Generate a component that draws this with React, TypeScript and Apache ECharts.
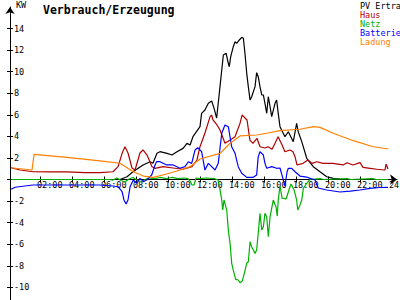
import React, { useEffect, useRef } from "react";
import * as echarts from "echarts";

// [hour, kW]
const pvData: [number, number][] = [
  [0.19, 0], [6.75, 0], [7.0, 0], [7.44, 0.26], [7.81, 0.72], [8.44, 1.35], [8.88, 1.65], [9.06, 1.5],
  [9.31, 2.43], [9.5, 2.58], [9.94, 2.43], [10.25, 2.27], [10.56, 2.58], [10.94, 2.89], [11.19, 3.36],
  [11.38, 3.2], [11.56, 3.97], [12.0, 4.9], [12.1, 6.14], [12.31, 6.45], [12.52, 7.07], [12.73, 7.28],
  [12.88, 6.6], [13.04, 5.7], [13.14, 7.07], [13.25, 8.61], [13.36, 10.16], [13.46, 11.55], [13.63, 11.71],
  [13.77, 10.78], [13.83, 10.46], [13.92, 11.39], [14.08, 12.32], [14.19, 12.78], [14.29, 12.63],
  [14.46, 12.94], [14.61, 13.19], [14.71, 13.1], [14.81, 11.71], [14.92, 9.85], [15.02, 8.61], [15.13, 7.37],
  [15.23, 7.68], [15.44, 8.61], [15.54, 9.91], [15.64, 9.54], [15.75, 8.61], [15.86, 7.84], [15.96, 7.84],
  [16.06, 7.07], [16.17, 6.14], [16.27, 7.68], [16.38, 6.75], [16.48, 5.83], [16.69, 7.07], [16.79, 7.37],
  [16.89, 6.14], [17.0, 4.9], [17.31, 3.97], [17.52, 4.43], [17.83, 3.51], [18.04, 5.21], [18.14, 4.43],
  [18.36, 3.51], [18.67, 1.97], [19.08, 1.19], [19.5, 0.72], [19.92, 0.26], [20.33, 0.11], [20.75, 0.05]
];

const hausData: [number, number][] = [
  [0.19, 1.09], [0.75, 0.88], [1.56, 0.72], [2.63, 0.7], [3.69, 0.7], [4.81, 0.63], [5.75, 0.63],
  [6.56, 0.72], [6.88, 1.19], [7.13, 2.43], [7.31, 3.04], [7.5, 2.46], [7.75, 1.07], [7.94, 0.88],
  [8.25, 2.46], [8.44, 2.74], [8.69, 2.27], [9.0, 1.19], [9.19, 1.04], [9.69, 1.19], [10.31, 1.07],
  [10.94, 0.95], [11.5, 1.19], [11.81, 1.81], [12.0, 3.04], [12.31, 4.31], [12.63, 5.83], [12.73, 5.98],
  [12.81, 5.52], [13.06, 5.06], [13.25, 4.59], [13.56, 3.36], [13.88, 3.66], [14.19, 3.97], [14.5, 5.21],
  [14.63, 5.98], [14.94, 5.52], [15.12, 3.66], [15.31, 3.36], [15.56, 3.82], [15.75, 3.04], [16.06, 2.92],
  [16.25, 3.04], [16.5, 2.8], [16.69, 3.36], [16.88, 3.97], [17.13, 3.2], [17.31, 2.58], [17.63, 2.74],
  [17.81, 2.58], [17.94, 2.12], [18.06, 1.35], [18.44, 1.5], [18.75, 1.81], [19.0, 1.5], [19.31, 1.65],
  [19.69, 1.5], [20.31, 1.5], [20.94, 1.35], [21.19, 1.56], [21.56, 1.35], [22.0, 1.56], [22.19, 1.13],
  [22.63, 1.04], [23.06, 0.95], [23.56, 0.88], [23.63, 1.44], [23.75, 0.97]
];

const netzData: [number, number][] = [
  [0.19, 0], [6.38, 0], [6.56, -0.05], [6.81, 0.14], [7.06, -0.09], [7.31, -0.23], [7.56, 0.05],
  [7.81, 0.19], [8.06, -0.05], [8.31, -0.23], [8.56, 0], [8.81, 0.14], [9.19, 0.09], [9.5, 0.19],
  [9.88, 0.09], [10.25, 0.19], [10.63, 0.09], [11.0, 0.14], [11.25, 0.09], [11.38, -0.14], [11.5, -0.51],
  [11.63, -0.51], [11.75, 0.14], [12.0, 0.09], [12.38, 0.14], [12.88, 0.09], [13.13, -0.05], [13.25, -0.97],
  [13.36, -1.9], [13.42, -2.83], [13.5, -1.9], [13.56, -2.21], [13.67, -2.83], [13.77, -4.69], [13.88, -5.92],
  [13.98, -7.77], [14.08, -8.4], [14.23, -9.26], [14.39, -9.32], [14.5, -9.57], [14.64, -9.42], [14.77, -8.7],
  [14.92, -7.77], [15.02, -7.63], [15.13, -5.77], [15.23, -6.23], [15.33, -6.54], [15.44, -6.85],
  [15.54, -6.54], [15.64, -4.99], [15.75, -3.14], [15.86, -4.68], [15.96, -4.38], [16.06, -3.14],
  [16.17, -3.45], [16.27, -5.31], [16.38, -3.45], [16.48, -2.67], [16.58, -1.9], [16.75, -2.52],
  [16.83, -3.39], [16.89, -1.9], [17.0, -0.6], [17.13, -1.72], [17.38, -1.81], [17.56, -0.97],
  [17.69, -0.42], [17.88, -0.97], [18.04, -1.9], [18.11, -2.83], [18.25, -2.37], [18.36, -1.9],
  [18.46, -0.82], [18.67, -0.35], [18.88, 0], [19.5, 0.08], [19.7, 0], [21.2, 0.08], [21.4, 0],
  [22.8, 0.08], [23.0, 0], [23.75, 0]
];

const batterieData: [number, number][] = [
  [0.19, -0.91], [0.44, -0.72], [1.06, -0.6], [1.56, -0.51], [3.69, -0.51], [5.75, -0.51], [6.56, -0.6],
  [6.88, -0.67], [7.13, -1.13], [7.25, -1.9], [7.38, -2.27], [7.5, -1.9], [7.63, -0.67], [7.83, -0.05],
  [8.04, -0.35], [8.25, 0.11], [8.46, -0.2], [8.67, -0.05], [8.98, 0.42], [9.19, 1.35], [9.29, 1.65],
  [9.5, 1.65], [9.92, 1.35], [10.33, 1.35], [10.75, 1.04], [11.06, 1.19], [11.27, 1.65], [11.48, 1.5],
  [11.69, 2.74], [11.86, 2.95], [12.0, 2.74], [12.1, 2.58], [12.31, 0.88], [12.52, 1.5], [12.73, 1.19],
  [12.94, 0.88], [13.14, 1.5], [13.36, 4.29], [13.56, 5.06], [13.77, 4.9], [13.98, 3.04], [14.19, 2.43],
  [14.39, 1.19], [14.61, 0.58], [14.92, 0.2], [15.33, 0.2], [15.54, 0.42], [15.64, 2.12], [15.75, 2.58],
  [15.96, 2.27], [16.06, 1.5], [16.17, 1.04], [16.48, 1.19], [16.79, 1.04], [17.0, 1.07], [17.21, -0.05],
  [17.31, -0.6], [17.44, 0.7], [17.52, 1.04], [17.73, 1.04], [17.94, 0.72], [18.25, 0.32], [18.67, 0.23],
  [18.88, 0.11], [19.19, -0.05], [19.39, -0.79], [19.92, -0.97], [20.75, -1.16], [21.38, -1.07],
  [22.0, -0.97], [22.63, -0.82], [23.25, -0.74], [23.75, -0.72]
];

const ladungData: [number, number][] = [
  [0.19, 1.09], [1.5, 0.88], [1.63, 2.34], [3.69, 2.06], [5.75, 1.72], [7.0, 1.51], [7.83, 0.72],
  [8.46, 0.32], [9.08, 0.2], [9.92, 0.51], [10.75, 0.88], [11.38, 1.19], [12.0, 1.9], [13.25, 2.43],
  [13.88, 3.36], [14.5, 4.04], [15.54, 4.13], [16.17, 4.29], [17.0, 4.53], [18.25, 4.66], [19.08, 4.9],
  [19.5, 4.84], [20.33, 4.29], [21.58, 3.6], [22.83, 3.04], [23.77, 2.83]
];

const seriesNames = ["PV Ertrag", "Haus", "Netz", "Batterie", "Ladung"];
const seriesColors = ["#000000", "#b00000", "#00b000", "#0000ff", "#ff8000"];
const xTickHours = [2, 4, 6, 8, 10, 12, 14, 16, 18, 20, 22, 24];
const yTickValues = [-10, -8, -6, -4, -2, 0, 2, 4, 6, 8, 10, 12, 14];
const yLabelValues = [-10, -8, -6, -4, -2, 2, 4, 6, 8, 10, 12, 14];
const title = "Verbrauch/Erzeugung";
const unit = "KW";

const FONT = "DejaVu Sans Mono";
const LABEL_SHIFT = 0.1875;

export default function App() {
  const ref = useRef<HTMLDivElement>(null);
  useEffect(() => {
    if (!ref.current) return;
    const chart = echarts.init(ref.current, null, { renderer: "svg" });
    const xMin = 0.125;
    const xMax = 24.3125;
    const yMin = -12;
    const yMax = 16;
    const gridTop = 7;
    const gridHeight = 301.9;
    // distance from grid bottom up to the zero line
    const zeroOffset = -(gridHeight * (0 - yMin)) / (yMax - yMin);
    const baseX = {
      type: "value" as const,
      min: xMin,
      max: xMax,
      position: "bottom" as const,
      offset: zeroOffset,
      splitLine: { show: false },
    };
    const baseY = {
      type: "value" as const,
      min: yMin,
      max: yMax,
      position: "left" as const,
      splitLine: { show: false },
    };
    const allData = [pvData, hausData, netzData, batterieData, ladungData];
    chart.setOption({
      animation: false,
      backgroundColor: "#ffffff",
      title: {
        text: title,
        left: 38,
        top: -1,
        textStyle: { fontFamily: FONT, fontWeight: "bold", fontSize: 11.5, color: "#000" },
      },
      legend: {
        orient: "vertical",
        left: 355,
        top: 1,
        itemWidth: 0,
        itemHeight: 0,
        itemGap: 0,
        padding: 0,
        selectedMode: false,
        textStyle: { fontFamily: FONT, fontSize: 8.5, lineHeight: 7.7 },
        data: seriesNames.map((n, i) => ({ name: n, icon: "rect", textStyle: { color: seriesColors[i] } })),
      },
      grid: {
        left: 10,
        top: gridTop,
        width: 387,
        height: gridHeight,
        containLabel: false,
        outerBoundsMode: "none",
      },
      xAxis: [
        {
          ...baseX,
          axisLine: {
            onZero: false,
            lineStyle: { color: "#000", width: 1 },
            symbol: ["none", "arrow"],
            symbolSize: [8, 7],
          },
          axisTick: { customValues: xTickHours, length: 3, lineStyle: { color: "#000" } },
          axisLabel: {
            customValues: xTickHours.map((h) => h - LABEL_SHIFT),
            formatter: (v: number) => String(Math.round(v + LABEL_SHIFT)).padStart(2, "0") + ":00",
            align: "left",
            margin: 1,
            fontFamily: FONT,
            fontSize: 8.5,
            color: "#000",
            showMinLabel: true,
            showMaxLabel: true,
            hideOverlap: false,
          },
        },
        {
          ...baseX,
          axisLine: { show: false, onZero: false },
          axisTick: { customValues: xTickHours, inside: true, length: 3, lineStyle: { color: "#000" } },
          axisLabel: { show: false },
        },
      ],
      yAxis: [
        {
          ...baseY,
          name: unit,
          nameLocation: "end",
          nameGap: 2.5,
          nameTextStyle: {
            fontFamily: FONT,
            fontSize: 8.5,
            color: "#000",
            align: "left",
            verticalAlign: "middle",
            padding: [0, 0, 0, 6],
          },
          axisLine: {
            onZero: false,
            lineStyle: { color: "#000", width: 1 },
            symbol: ["none", "arrow"],
            symbolSize: [7, 7],
          },
          axisTick: { customValues: yTickValues, length: 3, lineStyle: { color: "#000" } },
          axisLabel: {
            customValues: yLabelValues,
            inside: true,
            margin: 4,
            fontFamily: FONT,
            fontSize: 8.5,
            color: "#000",
          },
        },
        {
          ...baseY,
          axisLine: { show: false, onZero: false },
          axisTick: { customValues: yTickValues, inside: true, length: 3, lineStyle: { color: "#000" } },
          axisLabel: { show: false },
        },
      ],
      series: seriesNames.map((n, i) => ({
        name: n,
        type: "line",
        xAxisIndex: 0,
        yAxisIndex: 0,
        data: allData[i],
        showSymbol: false,
        symbol: "none",
        lineStyle: { color: seriesColors[i], width: 1.2 },
        itemStyle: { color: seriesColors[i] },
        z: 3,
      })),
    });
    return () => chart.dispose();
  }, []);
  return <div ref={ref} style={{ width: 400, height: 300, position: "absolute", left: 0, top: 0 }} />;
}
